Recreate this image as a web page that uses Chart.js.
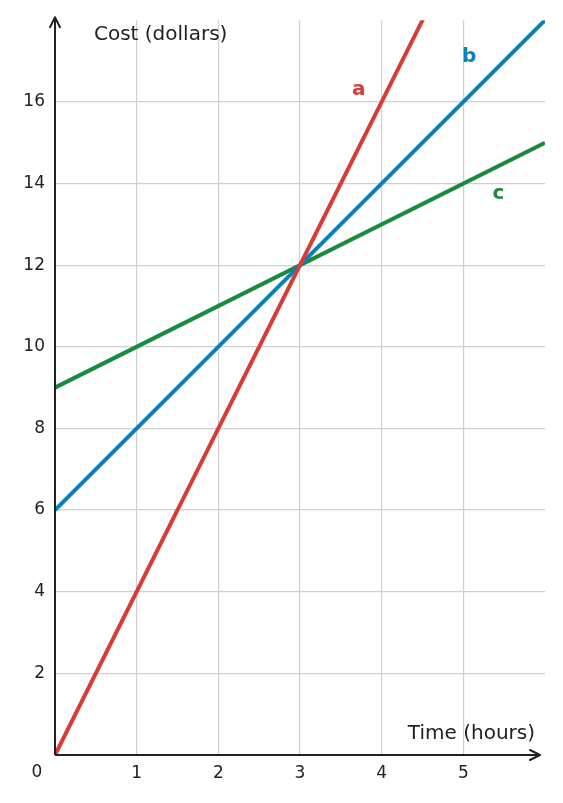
<!DOCTYPE html>
<html><head><meta charset="utf-8">
<script src="https://cdn.jsdelivr.net/npm/chart.js@4/dist/chart.umd.min.js"></script>
<style>html,body{margin:0;padding:0;background:#fff}#w{width:563px;height:803px}</style>
</head><body><div id="w"><canvas id="c"></canvas></div>
<script>
const hours = [0, 6];
const costA = [0, 24];
const costB = [6, 18];
const costC = [9, 15];
const xTicks = [1, 2, 3, 4, 5];
const yTicks = [2, 4, 6, 8, 10, 12, 14, 16];
const seriesNames = ['a', 'b', 'c'];
const labelPos = [[3.72, 16.3], [5.07, 17.1], [5.43, 13.75]];
const colors = ['#d63c38', '#0a82b8', '#1a8b3d'];
const F = 'DejaVu Sans';

const pts = ys => hours.map((x, i) => ({x, y: ys[i]}));
const deco = {
  id: 'deco',
  afterDatasetsDraw(ch) {
    const c = ch.ctx, xs = ch.scales.x, ys = ch.scales.y;
    const x0 = xs.getPixelForValue(0), y0 = ys.getPixelForValue(0);
    const top = ch.chartArea.top - 3;
    c.save();
    c.strokeStyle = '#222'; c.fillStyle = '#222'; c.lineWidth = 2;
    c.beginPath(); c.moveTo(x0, y0); c.lineTo(x0, top); c.stroke();
    c.beginPath(); c.moveTo(x0, y0); c.lineTo(540, y0); c.stroke();
    c.lineCap = 'round'; c.lineJoin = 'round';
    c.beginPath(); c.moveTo(x0 - 5, top + 10); c.lineTo(x0, top); c.lineTo(x0 + 5, top + 10); c.stroke();
    c.beginPath(); c.moveTo(530, y0 - 5); c.lineTo(540, y0); c.lineTo(530, y0 + 5); c.stroke();
    c.font = '20px "' + F + '"';
    c.textBaseline = 'middle';
    c.textAlign = 'left'; c.fillText('Cost (dollars)', 94, 35);
    c.textAlign = 'right'; c.fillText('Time (hours)', 535, 734);
    c.font = '17px "' + F + '"';
    c.textAlign = 'center'; c.fillText('0', 37, 773);
    c.font = 'bold 20px "' + F + '"';
    seriesNames.forEach((n, i) => {
      c.fillStyle = colors[i];
      c.fillText(n, xs.getPixelForValue(labelPos[i][0]), ys.getPixelForValue(labelPos[i][1]));
    });
    c.restore();
  }
};

new Chart(document.getElementById('c'), {
  type: 'line',
  data: { datasets: [costA, costB, costC].map((d, i) => ({
    label: seriesNames[i], data: pts(d), borderColor: colors[i], borderWidth: 4,
    pointRadius: 0, fill: false, tension: 0 })) },
  options: {
    responsive: true, maintainAspectRatio: false, animation: false,
    layout: { padding: { top: 17, right: 18, left: 0, bottom: 0 } },
    plugins: { legend: { display: false }, tooltip: { enabled: false } },
    scales: {
      x: { type: 'linear', min: 0, max: 6,
        afterBuildTicks: s => { s.ticks = xTicks.map(v => ({value: v})); },
        afterFit: s => { s.height = 48; },
        grid: { color: '#d0d0d0', lineWidth: 1.2, drawTicks: false },
        border: { display: false },
        ticks: { color: '#222', font: { family: F, size: 17 }, padding: 8 } },
      y: { type: 'linear', min: 0, max: 18,
        afterBuildTicks: s => { s.ticks = yTicks.map(v => ({value: v})); },
        afterFit: s => { s.width = 55; },
        grid: { color: '#d0d0d0', lineWidth: 1.2, drawTicks: false },
        border: { display: false },
        ticks: { color: '#222', font: { family: F, size: 17 }, padding: 10 } }
    }
  },
  plugins: [deco]
});
</script></body></html>
